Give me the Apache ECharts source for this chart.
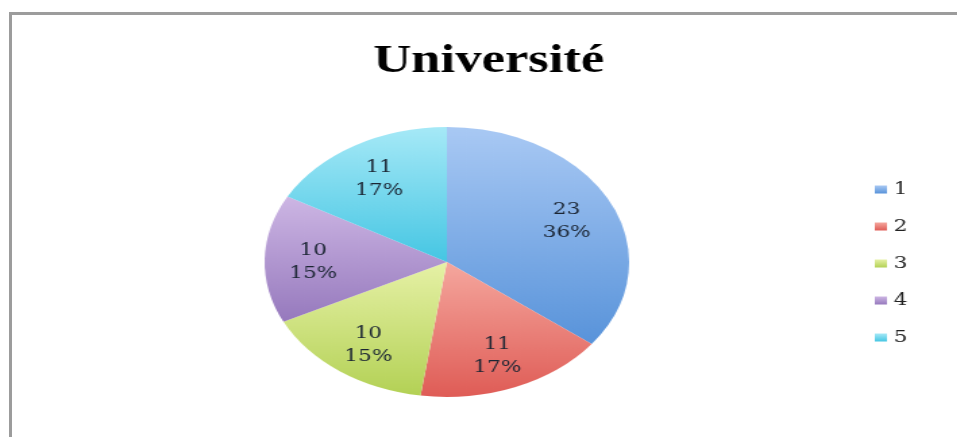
<!DOCTYPE html>
<html>
<head>
<meta charset="utf-8">
<script src="https://cdn.jsdelivr.net/npm/echarts@6/dist/echarts.min.js"></script>
<style>
  html, body { margin: 0; padding: 0; background: #fff; overflow: hidden; }
  #frame {
    position: absolute; left: 9px; top: 12px; width: 960px; height: 440px;
    border-left: 3px solid #9c9c9c; border-top: 3px solid #9c9c9c;
  }
  /* the source picture is stretched sideways, so the chart is drawn narrow and widened */
  #chart {
    position: absolute; left: 0; top: 0; width: 709px; height: 437px;
    transform: scaleX(1.35); transform-origin: 0 0;
  }
</style>
</head>
<body>
<div id="frame"></div>
<div id="chart"></div>
<script>
const categories = ['1', '2', '3', '4', '5']
const values = [23, 11, 10, 10, 11]
// top / bottom colour of each slice's gradient
const topColors = ['#a9c9f4', '#f5a79e', '#e6f1a6', '#cdb6e4', '#a6e9f7']
const bottomColors = ['#5893da', '#df5c56', '#b3d155', '#9679bd', '#45c6e3']

const myChart = echarts.init(document.getElementById('chart'))

const seriesData = categories.map((name, i) => ({
  name: name,
  value: values[i],
  itemStyle: {
    color: {
      type: 'linear', x: 0, y: 0, x2: 0, y2: 1,
      colorStops: [
        { offset: 0, color: topColors[i] },
        { offset: 1, color: bottomColors[i] }
      ]
    }
  }
}))

const option = {
  animation: false,
  title: {
    text: 'Université',
    left: 357,
    top: 37,
    textAlign: 'center',
    textStyle: {
      fontFamily: 'Liberation Serif',
      fontWeight: 'bold',
      fontSize: 39,
      color: '#000'
    }
  },
  legend: {
    orient: 'vertical',
    left: 643,
    top: 176,
    itemWidth: 9,
    itemHeight: 8,
    itemGap: 20,
    icon: 'rect',
    data: categories,
    textStyle: {
      fontFamily: 'DejaVu Serif',
      fontSize: 16,
      lineHeight: 17,
      color: '#222'
    }
  },
  series: [
    {
      name: 'pie',
      type: 'pie',
      center: [331, 262],
      radius: [0, 135],
      startAngle: 90,
      clockwise: true,
      percentPrecision: 0,
      label: { show: false },
      labelLine: { show: false },
      data: seriesData
    },
    {
      // transparent copy, only used to place the labels further out
      name: 'labels',
      type: 'pie',
      center: [331, 262],
      radius: [0, 192],
      startAngle: 90,
      clockwise: true,
      percentPrecision: 0,
      silent: true,
      itemStyle: { color: 'rgba(0,0,0,0)' },
      label: {
        show: true,
        position: 'inside',
        offset: [0, 3],
        formatter: '{c}\n{d}%',
        fontFamily: 'DejaVu Serif',
        fontSize: 16,
        lineHeight: 23,
        color: '#1b2533'
      },
      labelLine: { show: false },
      data: categories.map((name, i) => ({ name: name, value: values[i] }))
    }
  ]
}

myChart.setOption(option)
</script>
</body>
</html>
